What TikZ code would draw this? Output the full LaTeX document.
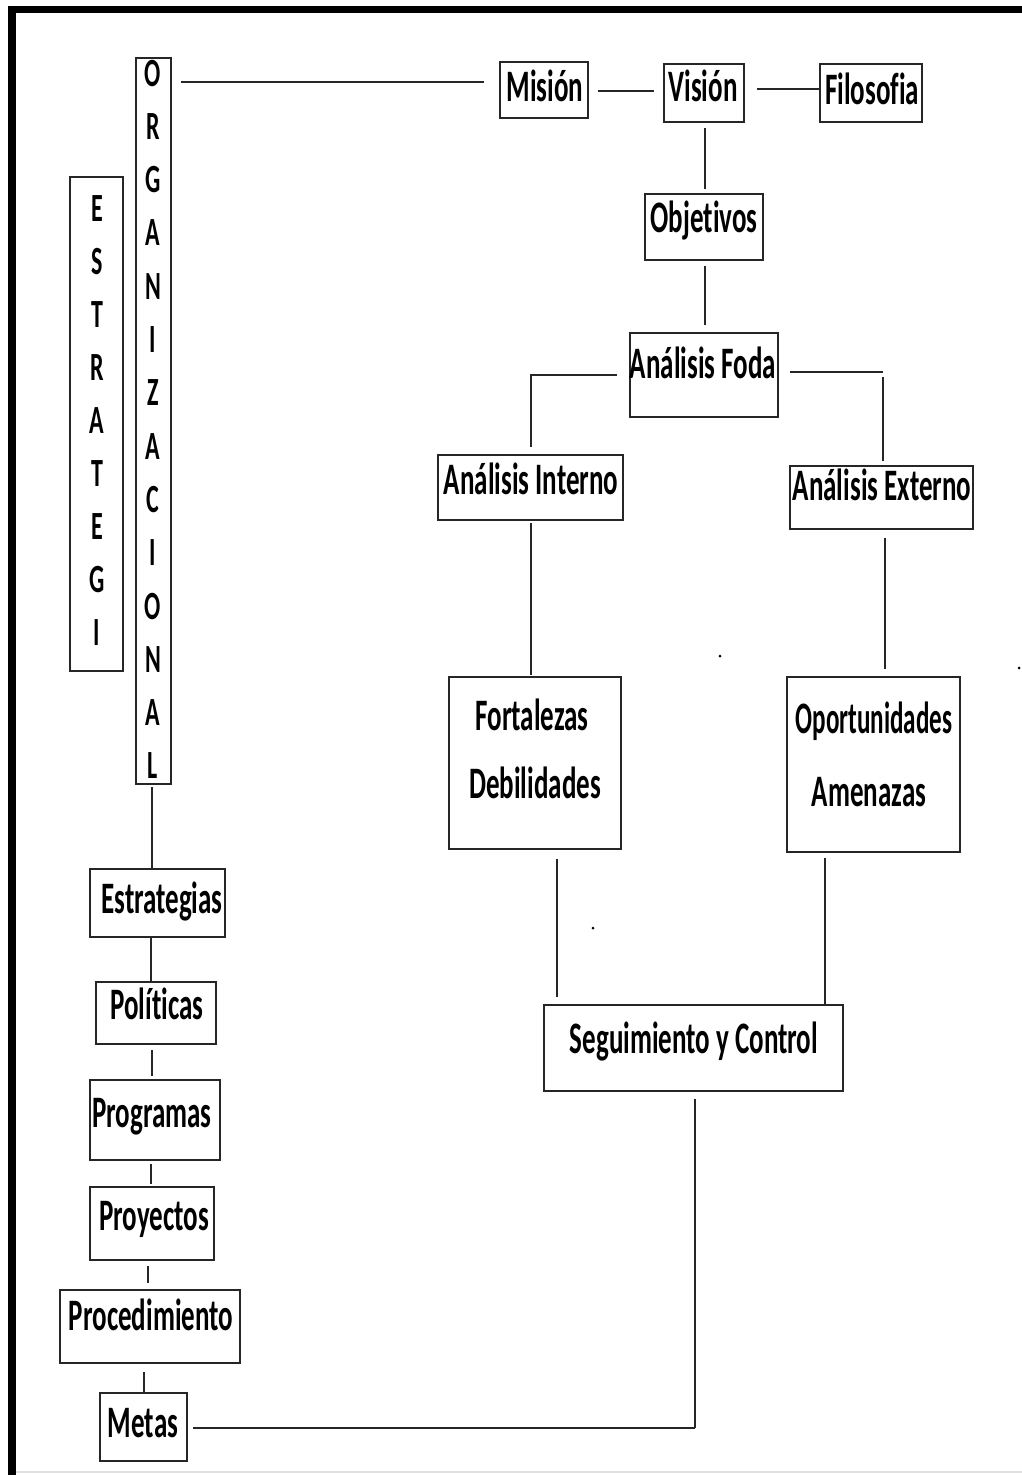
\documentclass[tikz,border=0pt]{standalone}
\usepackage{fontspec}
\setmainfont{Carlito}[FakeStretch=0.6, Ligatures={NoCommon}]
\begin{document}
\begin{tikzpicture}[x=1pt,y=-1pt,
  box/.style={draw=black!85, line width=2.4pt, inner sep=0pt, fill=white},
  conn/.style={draw=black!85, line width=2pt},
  txt/.style={anchor=base, inner sep=0pt, font=\fontsize{45}{54}\selectfont\bfseries},
  ltr/.style={anchor=base, inner sep=0pt, font=\fontsize{40}{48}\selectfont\bfseries}]
\useasboundingbox (0,0) rectangle (1022,1475);
% frame
\fill[black] (8,6) rectangle (1022,13);
\fill[black] (8,6) rectangle (16,1475);
\draw[black!12, line width=1.5pt] (16,1472) -- (1022,1472);

% boxes
\node[box, minimum width=35, minimum height=726] (org) at (153.5,421) {};
\node[box, minimum width=53, minimum height=494] (estr) at (96.5,424) {};
\node[box, minimum width=88, minimum height=56] (mision) at (544,90) {};
\node[box, minimum width=80, minimum height=58] (vision) at (704,93) {};
\node[box, minimum width=102, minimum height=58] (filo) at (871,93) {};
\node[box, minimum width=118, minimum height=66] (obj) at (704,227) {};
\node[box, minimum width=148, minimum height=84] (foda) at (704,375) {};
\node[box, minimum width=185, minimum height=65] (interno) at (530.5,487.5) {};
\node[box, minimum width=183, minimum height=63] (externo) at (881.5,497.5) {};
\node[box, minimum width=172, minimum height=172] (fort) at (535,763) {};
\node[box, minimum width=173, minimum height=175] (oport) at (873.5,764.5) {};
\node[box, minimum width=299, minimum height=86] (segui) at (693.5,1048) {};
\node[box, minimum width=135, minimum height=68] (estrat) at (157.5,903) {};
\node[box, minimum width=120, minimum height=62] (polit) at (156,1013) {};
\node[box, minimum width=130, minimum height=80] (prog) at (155,1120) {};
\node[box, minimum width=124, minimum height=73] (proy) at (152,1223.5) {};
\node[box, minimum width=180, minimum height=73] (proc) at (150,1326.5) {};
\node[box, minimum width=87, minimum height=68] (metas) at (143.5,1427) {};

% texts
\node[txt] (tmision) at (545,101) {Misión};
\node[txt] (tvision) at (703,101) {Visión};
\node[txt] (tfilo) at (872,104) {Filosofia};
\node[txt] (tobj) at (704,232) {Objetivos};
\node[txt] (tfoda) at (703,378) {Análisis Foda};
\node[txt] (tinterno) at (531,494) {Análisis Interno};
\node[txt] (texterno) at (882,500) {Análisis Externo};
\node[txt] (tfort) at (532,730) {Fortalezas};
\node[txt] (tdeb) at (535,798) {Debilidades};
\node[txt] (toport) at (874,733) {\scalebox{0.93}[1]{Oportunidades}};
\node[txt] (tamen) at (869,806) {Amenazas};
\node[txt] (tsegui) at (694,1053) {Seguimiento y Control};
\node[txt] (testrat) at (162,913) {Estrategias};
\node[txt] (tpolit) at (157,1019) {Políticas};
\node[txt] (tprog) at (152,1127) {Programas};
\node[txt] (tproy) at (154,1230) {Proyectos};
\node[txt] (tproc) at (151,1330) {Procedimiento};
\node[txt] (tmetas) at (143,1437) {Metas};

% vertical letters
\foreach \l [count=\i from 0] in {O,R,G,A,N,I,Z,A,C,I,O,N,A,L}
  \node[ltr] (o\i) at (153, 73+53.3*\i+13) {\l};
\foreach \l [count=\i from 0] in {E,S,T,R,A,T,E,G,I}
  \node[ltr] (e\i) at (97, 208+53.1*\i+13) {\l};

% stray dots
\fill (720,656) circle (1.5);
\fill (1019,668) circle (1.5);
\fill (593,928) circle (1.5);

% connectors
\draw[conn, shorten <=9pt, shorten >=15pt] (org.east |- 0,82) -- (mision.west |- 0,82);
\draw[conn, shorten <=9pt, shorten >=9pt] (mision.east |- 0,91) -- (vision.west |- 0,91);
\draw[conn, shorten <=12pt] (vision.east |- 0,89) -- (filo.west |- 0,89);
\draw[conn, shorten <=5pt, shorten >=4pt] (vision.south -| 705,0) -- (obj.north -| 705,0);
\draw[conn, shorten <=5pt, shorten >=7pt] (obj.south -| 705,0) -- (foda.north -| 705,0);
\draw[conn] (foda.west |- 0,375) ++(-12,0) -| (531,447);
\draw[conn] (foda.east |- 0,372) ++(11,0) -- (883,372);
\draw[conn, shorten <=5pt, shorten >=4pt] (883,372) -- (externo.north -| 883,0);
\draw[conn, shorten <=2pt, shorten >=1pt] (interno.south -| 531,0) -- (fort.north -| 531,0);
\draw[conn, shorten <=8pt, shorten >=7pt] (externo.south -| 885,0) -- (oport.north -| 885,0);
\draw[conn, shorten <=9pt, shorten >=7pt] (fort.south -| 557,0) -- (segui.north -| 557,0);
\draw[conn, shorten <=5pt] (oport.south -| 825,0) -- (segui.north -| 825,0);
\draw[conn] (segui.south -| 695,0) ++(0,7) -- (695,1428);
\draw[conn, shorten >=5pt] (695,1428) -- (metas.east |- 0,1428);
\draw[conn, shorten <=2pt] (org.south -| 152,0) -- (estrat.north -| 152,0);
\draw[conn] (estrat.south -| 151,0) -- (polit.north -| 151,0);
\draw[conn, shorten <=5pt, shorten >=3pt] (polit.south -| 152,0) -- (prog.north -| 152,0);
\draw[conn, shorten <=3pt, shorten >=2pt] (prog.south -| 151,0) -- (proy.north -| 151,0);
\draw[conn, shorten <=5pt, shorten >=6pt] (proy.south -| 148,0) -- (proc.north -| 148,0);
\draw[conn, shorten <=8pt] (proc.south -| 144,0) -- (metas.north -| 144,0);
\end{tikzpicture}
\end{document}
